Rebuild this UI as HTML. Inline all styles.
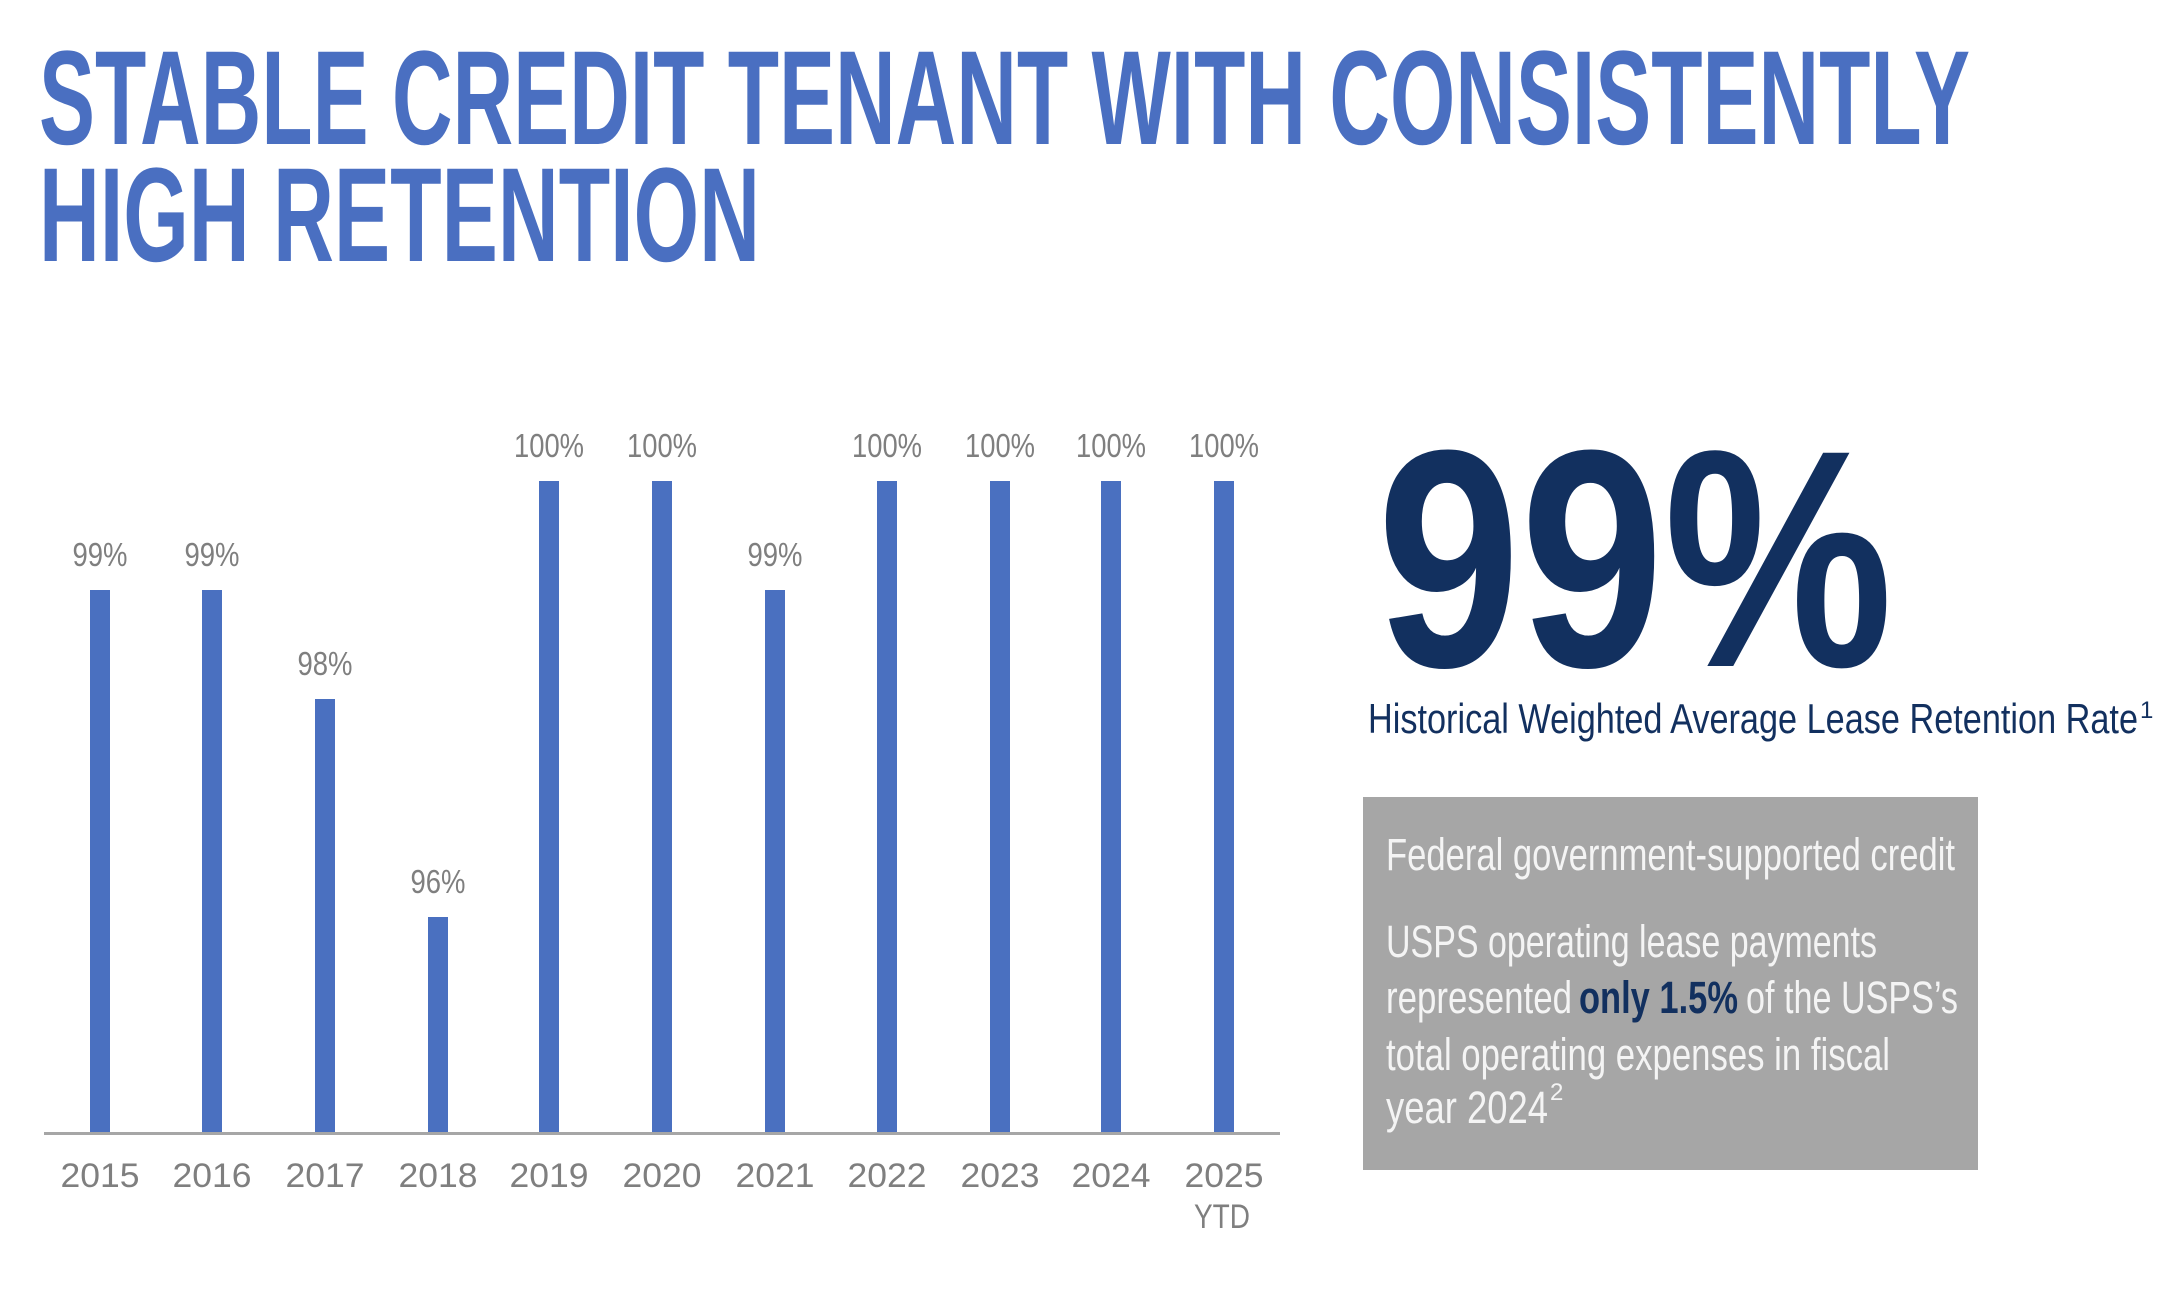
<!DOCTYPE html>
<html><head><meta charset="utf-8"><style>
html,body{margin:0;padding:0;background:#fff;}
svg{display:block;}
text{font-family:"Liberation Sans Narrow","Liberation Sans",sans-serif;}
</style></head><body>
<svg width="2174" height="1294" viewBox="0 0 2174 1294" xmlns="http://www.w3.org/2000/svg">
<rect width="2174" height="1294" fill="#fff"/>
<g fill="#4a6fc1" font-weight="bold" font-size="134">
<text x="39" y="144" textLength="1931" lengthAdjust="spacingAndGlyphs">STABLE CREDIT TENANT WITH CONSISTENTLY</text>
<text x="39" y="261" textLength="721" lengthAdjust="spacingAndGlyphs">HIGH RETENTION</text>
</g>
<g fill="#4a70c0">
<rect x="90" y="590" width="20" height="544"/>
<rect x="202" y="590" width="20" height="544"/>
<rect x="315" y="699" width="20" height="435"/>
<rect x="428" y="917" width="20" height="217"/>
<rect x="539" y="481" width="20" height="653"/>
<rect x="652" y="481" width="20" height="653"/>
<rect x="765" y="590" width="20" height="544"/>
<rect x="877" y="481" width="20" height="653"/>
<rect x="990" y="481" width="20" height="653"/>
<rect x="1101" y="481" width="20" height="653"/>
<rect x="1214" y="481" width="20" height="653"/>
</g>
<rect x="44" y="1132" width="1236" height="3" fill="#a6a6a6"/>
<g fill="#7f7f7f" font-size="33" text-anchor="middle">
<text x="100" y="566" textLength="55" lengthAdjust="spacingAndGlyphs">99%</text>
<text x="212" y="566" textLength="55" lengthAdjust="spacingAndGlyphs">99%</text>
<text x="325" y="675" textLength="55" lengthAdjust="spacingAndGlyphs">98%</text>
<text x="438" y="893" textLength="55" lengthAdjust="spacingAndGlyphs">96%</text>
<text x="549" y="457" textLength="70" lengthAdjust="spacingAndGlyphs">100%</text>
<text x="662" y="457" textLength="70" lengthAdjust="spacingAndGlyphs">100%</text>
<text x="775" y="566" textLength="55" lengthAdjust="spacingAndGlyphs">99%</text>
<text x="887" y="457" textLength="70" lengthAdjust="spacingAndGlyphs">100%</text>
<text x="1000" y="457" textLength="70" lengthAdjust="spacingAndGlyphs">100%</text>
<text x="1111" y="457" textLength="70" lengthAdjust="spacingAndGlyphs">100%</text>
<text x="1224" y="457" textLength="70" lengthAdjust="spacingAndGlyphs">100%</text>
</g>
<g fill="#7f7f7f" font-size="34" text-anchor="middle">
<text x="100" y="1187" textLength="79" lengthAdjust="spacingAndGlyphs">2015</text>
<text x="212" y="1187" textLength="79" lengthAdjust="spacingAndGlyphs">2016</text>
<text x="325" y="1187" textLength="79" lengthAdjust="spacingAndGlyphs">2017</text>
<text x="438" y="1187" textLength="79" lengthAdjust="spacingAndGlyphs">2018</text>
<text x="549" y="1187" textLength="79" lengthAdjust="spacingAndGlyphs">2019</text>
<text x="662" y="1187" textLength="79" lengthAdjust="spacingAndGlyphs">2020</text>
<text x="775" y="1187" textLength="79" lengthAdjust="spacingAndGlyphs">2021</text>
<text x="887" y="1187" textLength="79" lengthAdjust="spacingAndGlyphs">2022</text>
<text x="1000" y="1187" textLength="79" lengthAdjust="spacingAndGlyphs">2023</text>
<text x="1111" y="1187" textLength="79" lengthAdjust="spacingAndGlyphs">2024</text>
<text x="1224" y="1187" textLength="79" lengthAdjust="spacingAndGlyphs">2025</text>
<text x="1222" y="1228" textLength="56" lengthAdjust="spacingAndGlyphs">YTD</text>
</g>
<text x="1377" y="666" fill="#12305f" font-weight="bold" font-size="310" textLength="516" lengthAdjust="spacingAndGlyphs">99%</text>
<text x="1368" y="733" fill="#12305f" font-size="42" textLength="770" lengthAdjust="spacingAndGlyphs">Historical Weighted Average Lease Retention Rate</text>
<text x="2140" y="718" fill="#12305f" font-size="24">1</text>
<rect x="1363" y="797" width="615" height="373" fill="#a6a6a6"/>
<g fill="#f4f4f4" font-size="45">
<text x="1386" y="870" textLength="569" lengthAdjust="spacingAndGlyphs">Federal government-supported credit</text>
<text x="1386" y="957" textLength="491" lengthAdjust="spacingAndGlyphs">USPS operating lease payments</text>
<text x="1386" y="1013" textLength="186" lengthAdjust="spacingAndGlyphs">represented</text>
<text x="1579" y="1013" fill="#12305f" font-weight="bold" textLength="159" lengthAdjust="spacingAndGlyphs">only 1.5%</text>
<text x="1746" y="1013" textLength="212" lengthAdjust="spacingAndGlyphs">of the USPS’s</text>
<text x="1386" y="1070" textLength="504" lengthAdjust="spacingAndGlyphs">total operating expenses in fiscal</text>
<text x="1386" y="1123" textLength="162" lengthAdjust="spacingAndGlyphs">year 2024</text>
<text x="1550" y="1100" font-size="24">2</text>
</g>
</svg>
</body></html>
